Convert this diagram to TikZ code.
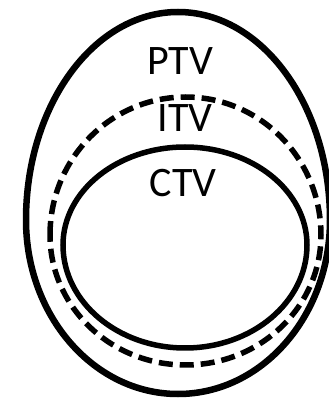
\documentclass[tikz,border=0pt]{standalone}
\usepackage{fontspec}
\setmainfont{Carlito}

\begin{document}
\begin{tikzpicture}[
  x=1pt,y=1pt,
  contour/.style={draw,black,line width=5.5pt},
  outercontour/.style={contour,line width=6.5pt},
  margincontour/.style={contour,dash pattern=on 14pt off 7pt},
  volume/.style={anchor=base,font=\fontsize{42}{48}\selectfont,inner sep=0pt}
]
  \useasboundingbox (0,0) rectangle (329,402);
  \clip (0,0) rectangle (329,402);

  % PTV, egg shaped: taller above the widest line than below
  \draw[outercontour] (26,182)
    arc[start angle=180,end angle=0,x radius=152,y radius=208]
    arc[start angle=0,end angle=-180,x radius=152,y radius=174] -- cycle;

  % ITV
  \draw[margincontour] (50,167)
    arc[start angle=180,end angle=0,x radius=135.5,y radius=138]
    arc[start angle=0,end angle=-180,x radius=135.5,y radius=130];

  % CTV
  \draw[contour] (63,157)
    arc[start angle=180,end angle=0,x radius=122,y radius=98]
    arc[start angle=0,end angle=-180,x radius=122,y radius=103] -- cycle;

  \node[volume] (ptv) at (180,327) {PTV};
  \node[volume] (itv) at (185,270) {ITV};
  \node[volume] (ctv) at (183,205) {CTV};
\end{tikzpicture}
\end{document}
